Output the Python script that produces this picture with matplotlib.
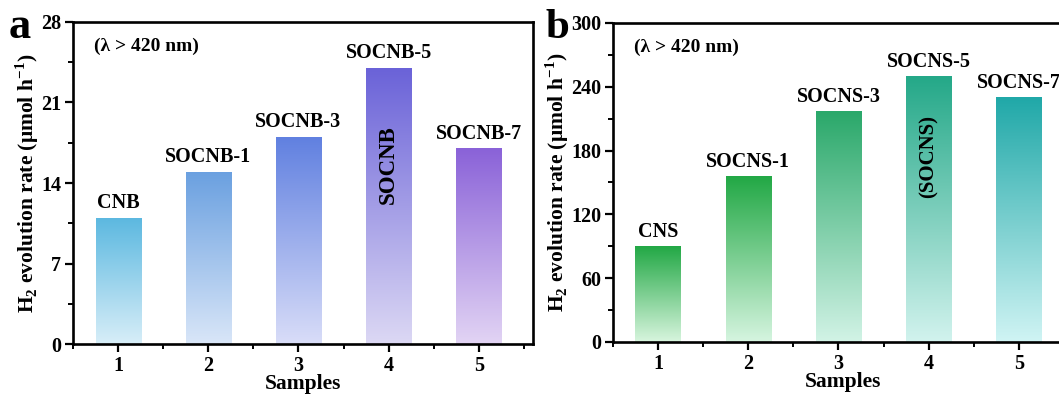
import numpy as np
import matplotlib
matplotlib.use("Agg")
import matplotlib.pyplot as plt
from matplotlib.colors import LinearSegmentedColormap
from matplotlib.ticker import MultipleLocator

plt.rcParams['font.family'] = ['Liberation Serif', 'DejaVu Serif']
plt.rcParams['font.weight'] = 'bold'
plt.rcParams['mathtext.fontset'] = 'custom'
plt.rcParams['mathtext.rm'] = 'Liberation Serif:bold'
plt.rcParams['mathtext.bf'] = 'Liberation Serif:bold'

# ---- data ----
samples = [1, 2, 3, 4, 5]
labels_a = ["CNB", "SOCNB-1", "SOCNB-3", "SOCNB-5", "SOCNB-7"]
values_a = [11, 15, 18, 24, 17]
top_colors_a = ["#5bb8e0", "#6aa0e0", "#6080e0", "#6a62d8", "#8a62d8"]
bot_colors_a = ["#d8eef8", "#d9e6f8", "#d9ddf8", "#dcd8f4", "#e2d4f4"]

labels_b = ["CNS", "SOCNS-1", "SOCNS-3", "SOCNS-5", "SOCNS-7"]
values_b = [90, 156, 217, 250, 230]
top_colors_b = ["#22a845", "#22a845", "#2aa86a", "#24a888", "#20a8a8"]
bot_colors_b = ["#d8f5de", "#d6f5e0", "#d2f3e6", "#d2f3ee", "#d0f4f4"]

fig = plt.figure(figsize=(10.59, 3.99), dpi=100)
ax_a = fig.add_axes([0.0689, 0.1378, 0.4344, 0.8071])
ax_b = fig.add_axes([0.5788, 0.1429, 0.4344, 0.7995])


def draw(ax, vals, labs, tops, bots, ymax, ystep, inner):
    bars = ax.bar(samples, vals, width=0.5, color='none', edgecolor='none', zorder=2)
    grad = np.linspace(0, 1, 256).reshape(-1, 1)
    for b, t, bo in zip(bars, tops, bots):
        cmap = LinearSegmentedColormap.from_list('g', [bo, t])
        x0 = b.get_x(); w = b.get_width(); h = b.get_height()
        im = ax.imshow(grad, cmap=cmap, origin='lower', aspect='auto',
                       extent=[x0, x0 + w, 0, h], zorder=2)
        im.set_clip_path(b)
    for x, v, l in zip(samples, vals, labs):
        ax.text(x, v + ymax * 0.014, l, ha='center', va='bottom',
                fontsize=14.5, fontweight='bold')
    ax.set_xlim(0.5, 5.6)
    ax.set_ylim(0, ymax)
    ax.xaxis.set_major_locator(MultipleLocator(1))
    ax.xaxis.set_minor_locator(MultipleLocator(0.5))
    ax.yaxis.set_major_locator(MultipleLocator(ystep))
    ax.yaxis.set_minor_locator(MultipleLocator(ystep / 2))
    ax.tick_params(which='major', direction='out', length=6, width=1.6,
                   labelsize=14.5, pad=2.5)
    ax.tick_params(which='minor', direction='out', length=3.5, width=1.4)
    for s in ax.spines.values():
        s.set_linewidth(1.9)
    for lab in ax.get_xticklabels() + ax.get_yticklabels():
        lab.set_fontweight('bold')
    ax.set_xlabel('Samples', fontsize=15.5, fontweight='bold', labelpad=-1)
    ax.set_ylabel(r'H$_2$ evolution rate ($\mathregular{\mu}$mol h$^{-1}$)',
                  fontsize=15.5, fontweight='bold', labelpad=0)
    ax.text(0.045, 0.925, '(λ > 420 nm)', transform=ax.transAxes,
            fontsize=14, fontweight='bold', ha='left', va='center')
    ax.text(4, inner[0], inner[1], rotation=90, ha='center', va='center',
            fontsize=inner[2], fontweight='bold')


draw(ax_a, values_a, labels_a, top_colors_a, bot_colors_a, 28, 7, (15.6, 'SOCNB', 16.5))
draw(ax_b, values_b, labels_b, top_colors_b, bot_colors_b, 300, 60, (174, '(SOCNS)', 15))

# smaller top tick labels as in the original
fig.canvas.draw()
for ax in (ax_a, ax_b):
    labs = ax.get_yticklabels()
    labs[-1].set_fontsize(11)

fig.text(9 / 1059, 1 - 27 / 399, 'a', fontsize=32, fontweight='bold', va='center', ha='left')
fig.text(546 / 1059, 1 - 28 / 399, 'b', fontsize=31, fontweight='bold', va='center', ha='left')

fig.savefig('out.png', dpi=100)
